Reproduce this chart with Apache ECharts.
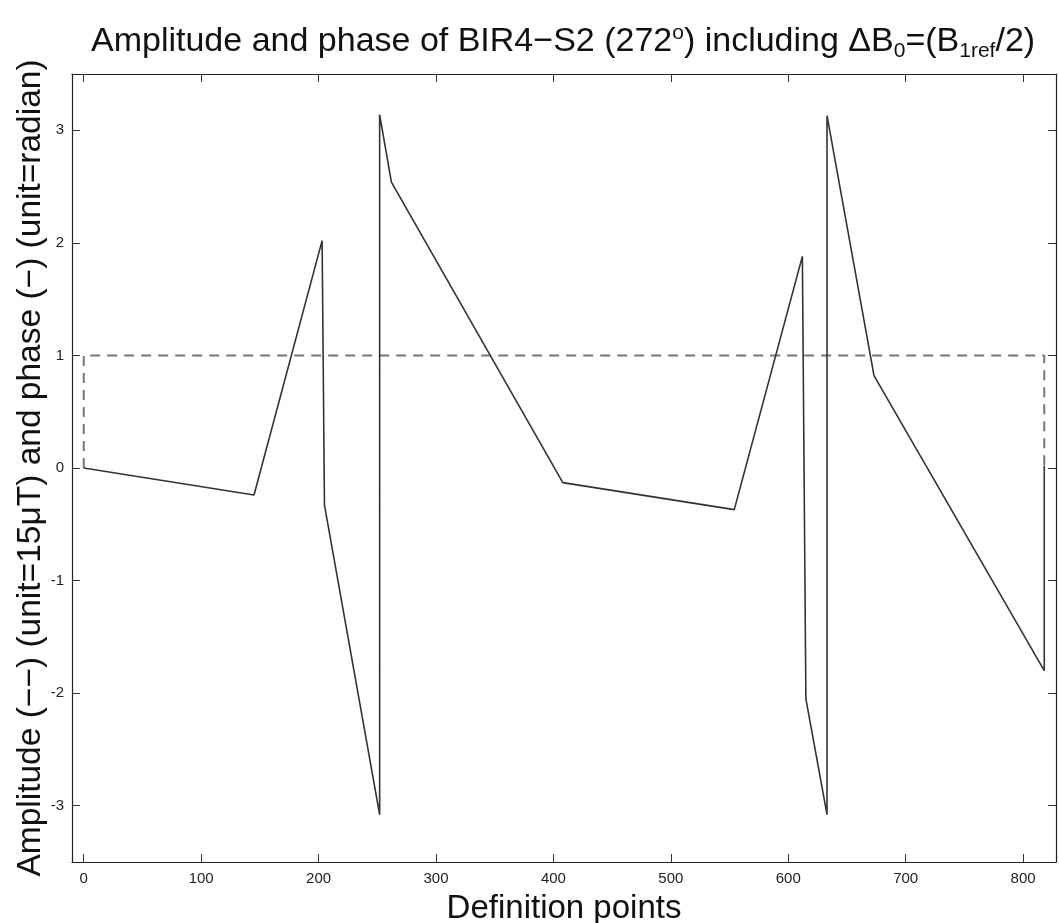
<!DOCTYPE html>
<html>
<head>
<meta charset="utf-8">
<script src="https://cdn.jsdelivr.net/npm/echarts@6/dist/echarts.min.js"></script>
<style>html,body{margin:0;padding:0;background:#fff}#c{width:1059px;height:923px}</style>
</head>
<body>
<div id="c"></div>
<script>
// Data
var phaseX = [0, 145, 203, 205, 252, 252, 262, 408, 554, 612, 615, 633, 633, 673, 818, 818];
var phaseY = [0, -0.24, 2.02, -0.33, -3.08, 3.14, 2.54, -0.13, -0.37, 1.88, -2.05, -3.08, 3.13, 0.82, -1.80, 0.02];
var ampX = [0, 0, 818, 818];
var ampY = [0, 1, 1, 0];
var xTicks = [0, 100, 200, 300, 400, 500, 600, 700, 800];
var yTicks = [-3, -2, -1, 0, 1, 2, 3];

function pairs(xs, ys) { return xs.map(function (x, i) { return [x, ys[i]]; }); }

var chart = echarts.init(document.getElementById('c'), null, { renderer: 'canvas' });
var font = 'Liberation Sans';
var lineStyleAxis = { color: '#222', width: 1.2 };
var tickStyle = { color: '#333', width: 1 };

chart.setOption({
  backgroundColor: '#fff',
  animation: false,
  title: {
    text: 'Amplitude and phase of BIR4\u2212S2 (272{sup|o}) including \u0394B{sub|0}=(B{sub|1ref}/2)',
    left: 86,
    top: 16,
    textStyle: {
      fontFamily: font, fontSize: 34, fontWeight: 'normal', color: '#111',
      rich: {
        sup: { fontFamily: font, fontSize: 21, color: '#111', verticalAlign: 'bottom', padding: [0, 0, 18, 0] },
        sub: { fontFamily: font, fontSize: 21, color: '#111', verticalAlign: 'top', padding: [20, 0, 0, 0] }
      }
    }
  },
  grid: { left: 72, right: 3, top: 74, bottom: 61, containLabel: false, outerBoundsMode: 'none' },
  xAxis: [{
    type: 'value', min: -10, max: 828, position: 'bottom',
    name: 'Definition points', nameLocation: 'middle', nameGap: 30, nameMoveOverlap: false,
    nameTextStyle: { fontFamily: font, fontSize: 33, color: '#111' },
    axisLine: { show: true, onZero: false, lineStyle: lineStyleAxis },
    axisTick: { show: true, inside: true, length: 8, customValues: xTicks, lineStyle: tickStyle },
    axisLabel: { customValues: xTicks, fontFamily: font, fontSize: 15, color: '#222', margin: 9 },
    splitLine: { show: false }
  }, {
    type: 'value', min: -10, max: 828, position: 'top',
    axisLine: { show: true, onZero: false, lineStyle: lineStyleAxis },
    axisTick: { show: true, inside: true, length: 8, customValues: xTicks, lineStyle: tickStyle },
    axisLabel: { show: false },
    splitLine: { show: false }
  }],
  yAxis: [{
    type: 'value', min: -3.5, max: 3.5, position: 'left',
    name: 'Amplitude (\u2212\u2212) (unit=15\u03bcT) and phase (\u2212) (unit=radian)',
    nameLocation: 'middle', nameGap: 24, nameMoveOverlap: false,
    nameTextStyle: { fontFamily: font, fontSize: 33.5, color: '#111' },
    axisLine: { show: true, onZero: false, lineStyle: lineStyleAxis },
    axisTick: { show: true, inside: true, length: 8, customValues: yTicks, lineStyle: tickStyle },
    axisLabel: { customValues: yTicks, fontFamily: font, fontSize: 15, color: '#222', margin: 8 },
    splitLine: { show: false }
  }, {
    type: 'value', min: -3.5, max: 3.5, position: 'right',
    axisLine: { show: true, onZero: false, lineStyle: lineStyleAxis },
    axisTick: { show: true, inside: true, length: 8, customValues: yTicks, lineStyle: tickStyle },
    axisLabel: { show: false },
    splitLine: { show: false }
  }],
  series: [{
    name: 'amplitude', type: 'line', xAxisIndex: 0, yAxisIndex: 0,
    data: pairs(ampX, ampY), showSymbol: false, symbol: 'none',
    lineStyle: { color: '#777', width: 2, type: [10, 7] }
  }, {
    name: 'phase', type: 'line', xAxisIndex: 0, yAxisIndex: 0,
    data: pairs(phaseX, phaseY), showSymbol: false, symbol: 'none',
    lineStyle: { color: '#333', width: 1.6 }
  }]
});
</script>
</body>
</html>
